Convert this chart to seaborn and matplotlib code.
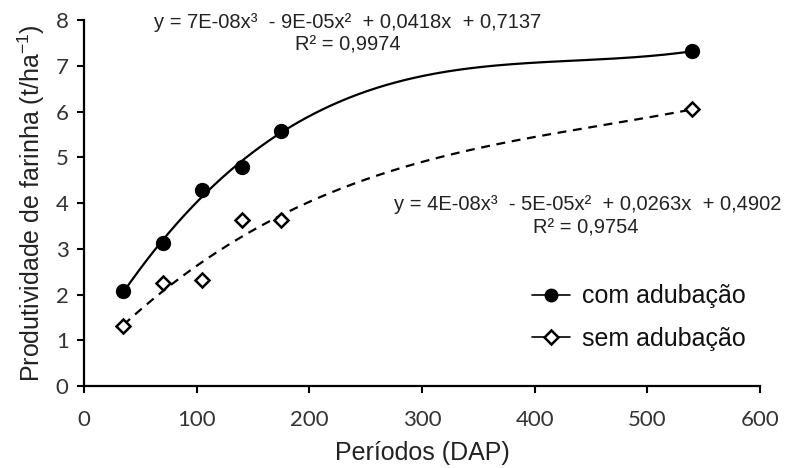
import numpy as np
import pandas as pd
import matplotlib
matplotlib.use("Agg")
import matplotlib.pyplot as plt
import seaborn as sns
from matplotlib.lines import Line2D

# data
periodos = [35, 70, 105, 140, 175, 540]
com_adubacao = [2.07, 3.12, 4.29, 4.80, 5.58, 7.32]
sem_adubacao = [1.31, 2.26, 2.32, 3.62, 3.62, 6.05]
x_ticks = [0, 100, 200, 300, 400, 500, 600]
y_ticks = [0, 1, 2, 3, 4, 5, 6, 7, 8]
eq_com = "y = 7E-08x³  - 9E-05x²  + 0,0418x  + 0,7137"
r2_com = "R² = 0,9974"
eq_sem = "y = 4E-08x³  - 5E-05x²  + 0,0263x  + 0,4902"
r2_sem = "R² = 0,9754"

sns.set_style("white")
plt.rcParams["font.family"] = ["Liberation Sans", "DejaVu Sans"]
plt.rcParams["mathtext.fontset"] = "custom"
plt.rcParams["mathtext.rm"] = "Liberation Sans"
plt.rcParams["mathtext.it"] = "Liberation Sans"

df = pd.DataFrame({"x": periodos, "com": com_adubacao, "sem": sem_adubacao})

# polynomial trendlines (3rd order) fitted to the data
xs = np.linspace(min(periodos), max(periodos), 300)
fit_com = np.polyval(np.polyfit(periodos, com_adubacao, 3), xs)
fit_sem = np.polyval(np.polyfit(periodos, sem_adubacao, 3), xs)
trend = pd.DataFrame({"x": xs, "com": fit_com, "sem": fit_sem})

fig = plt.figure(figsize=(7.88, 4.68), dpi=100)
ax = fig.add_axes([0.1066, 0.175, 0.858, 0.782])

sns.lineplot(data=trend, x="x", y="com", ax=ax, color="black", lw=1.6)
sns.lineplot(data=trend, x="x", y="sem", ax=ax, color="black", lw=1.6,
             linestyle=(0, (4, 3)))
ax.plot(df["x"], df["com"], "o", ms=10, color="black", zorder=5)
ax.plot(df["x"], df["sem"], "D", ms=7.5, mfc="white", mec="black", mew=1.8, zorder=5)

ax.set_xlim(0, 600)
ax.set_ylim(0, 8)
ax.set_xticks(x_ticks)
ax.set_yticks(y_ticks)
ax.tick_params(axis="both", direction="out", length=5, width=1.5, color="black",
               labelsize=16, labelcolor="#333333", left=True, bottom=True)
for lab in ax.get_xticklabels() + ax.get_yticklabels():
    lab.set_family(["Lato", "DejaVu Sans"])
ax.tick_params(axis="x", pad=12)
ax.tick_params(axis="y", pad=6)
for s in ["top", "right"]:
    ax.spines[s].set_visible(False)
for s in ["left", "bottom"]:
    ax.spines[s].set_color("black")
    ax.spines[s].set_linewidth(1.6)

ax.set_xlabel("Períodos (DAP)", fontsize=18, color="#222222", labelpad=8)
ax.set_ylabel("Produtividade de farinha (t/ha$^{-1}$)", fontsize=18, color="#222222", labelpad=6)

ax.text(234, 7.95, eq_com, fontsize=14.5, ha="center", va="center", color="#222222")
ax.text(234, 7.45, r2_com, fontsize=14.5, ha="center", va="center", color="#222222")
ax.text(447, 3.96, eq_sem, fontsize=14.5, ha="center", va="center", color="#222222")
ax.text(445, 3.46, r2_sem, fontsize=14.5, ha="center", va="center", color="#222222")

handles = [
    Line2D([], [], color="black", lw=1.2, marker="o", ms=9),
    Line2D([], [], color="black", lw=1.2, marker="D", ms=7, mfc="white", mew=1.8),
]
ax.legend(handles, ["com adubação", "sem adubação"], loc="center left",
          bbox_to_anchor=(0.63, 0.187), frameon=False, fontsize=18,
          handlelength=1.5, handletextpad=0.5, labelspacing=0.75, labelcolor="#111111")

fig.savefig("out.png", dpi=100)
